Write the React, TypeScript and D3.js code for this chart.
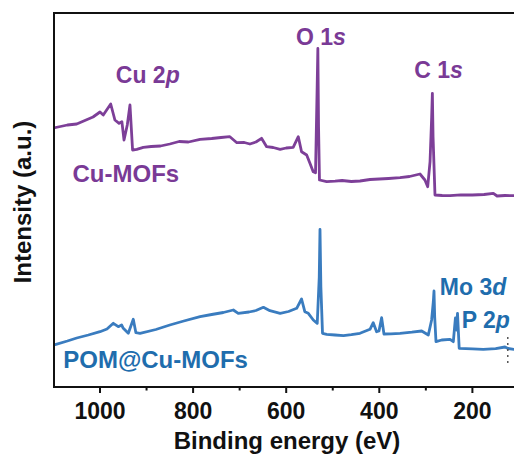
import React from "react";
import * as d3 from "d3";

// XPS survey spectra: binding energy (eV) vs intensity (a.u., curves offset vertically)
const cuMofEnergy = [1100, 1085, 1070, 1050, 1030, 1015, 1000, 993, 977, 968, 959, 953, 948.4, 941.4, 935.6, 930, 921, 907, 890, 870, 850, 830, 810, 785, 760, 740, 721, 706, 690, 678, 665, 653, 642, 628, 613, 600, 585, 574, 567, 556, 549, 542, 537, 533.5, 532, 530.5, 528.5, 513, 495, 480, 460, 441.5, 420, 400, 380, 355.5, 335, 312.6, 302, 296, 291, 287.5, 286, 284.5, 280.4, 265, 248, 225, 200, 175, 155, 147, 130, 110.6, 100];
const cuMofIntensity = [259, 260.5, 262, 263, 267, 270, 275, 272, 283, 267, 263.7, 265.3, 247, 262, 282, 237, 237.7, 239.7, 240.5, 241, 243, 245.5, 245, 247.7, 248.5, 249.5, 250.3, 244.3, 244.5, 243, 245, 248.7, 240.3, 239.5, 237.7, 239, 239.7, 250.3, 235.3, 232, 223.7, 215.3, 214.3, 300, 338.5, 260, 207, 205.3, 205.8, 206.5, 205.5, 206, 207.5, 208, 208.5, 209.3, 210.5, 213, 207, 200.3, 225.3, 270, 293.7, 250, 192, 191.5, 191.3, 192.2, 192, 192.5, 193.7, 191, 191.5, 191.3, 191.3];

const pomEnergy = [1100, 1094.5, 1070, 1050, 1025, 1000, 985, 971.4, 960.7, 953.6, 950, 939.2, 928.5, 922.9, 914, 880, 850, 820, 785, 760, 735, 713.6, 703, 680, 665, 649, 635, 613, 595, 577.5, 567, 560, 552.5, 541.8, 533.3, 529, 527.4, 525.5, 522, 513, 495, 477, 460, 441.5, 420, 413, 405.8, 400.7, 395, 390, 375, 355.5, 330, 309, 294.7, 287.6, 284, 282.5, 281, 278.2, 266, 248, 241, 236.5, 234.3, 232, 228.4, 200, 176.7, 150, 130, 123.5, 110.6, 100];
const pomIntensity = [42, 42.7, 46, 49, 52, 55.3, 58, 63.7, 60.3, 62, 58.7, 53.7, 67.7, 54.3, 53.7, 57.5, 62, 66, 70.3, 72.5, 74.5, 77, 73.7, 75, 76.5, 79.7, 76.3, 73.7, 75.5, 78.7, 88, 75.3, 73.7, 67, 63.7, 110, 157.5, 100, 53.7, 52.7, 52, 51.3, 52.3, 53.7, 57.7, 64.3, 55.3, 56, 69.3, 53, 53.2, 53.7, 54.8, 56, 52, 67, 85, 96, 70, 45.3, 47, 47.7, 45.3, 69, 57, 73.7, 38.7, 38.2, 37.7, 38.3, 40, 38.5, 37.7, 37.7];

const majorTicks = [1000, 800, 600, 400, 200];
const minorTicks = [900, 700, 500, 300];

// peak annotations: [energy, intensity at text baseline, main text, italic suffix, series]
const peakLabels: [number, number, string, string, string][] = [
  [579, 342, "O 1", "s", "cu"],
  [325, 308.7, "C 1", "s", "cu"],
  [966, 303.7, "Cu 2", "p", "cu"],
  [270, 92, "Mo 3", "d", "pom"],
  [223, 58.7, "P 2", "p", "pom"],
];
const seriesLabels: [number, number, string, string][] = [
  [1059, 205.3, "Cu-MOFs", "cu"],
  [1079, 18.7, "POM@Cu-MOFs", "pom"],
];
// short dotted guide near the right edge
const guideMarks: [number, number, number][] = [[124, 50, 22]];

const W = 514;
const H = 456;
const left = 54;
const top = 13;
const bottom = 387;

const LINE = { cu: "#7d3f98", pom: "#3a7cbf" };
const TEXT = { cu: "#7a3a96", pom: "#1f6dad" };
const FONT = "'Liberation Sans', Arial, sans-serif";

export default function App() {
  const x = d3.scaleLinear().domain([1000, 200]).range([100, 472.4]);
  const y = d3.scaleLinear().domain([0, 374]).range([bottom, top]);

  const line = d3
    .line<[number, number]>()
    .x((d) => x(d[0]))
    .y((d) => y(d[1]))
    .curve(d3.curveLinear);

  const cuPath = line(cuMofEnergy.map((e, i) => [e, cuMofIntensity[i]]) as [number, number][]) || "";
  const pomPath = line(pomEnergy.map((e, i) => [e, pomIntensity[i]]) as [number, number][]) || "";

  return (
    <div style={{ position: "absolute", left: 0, top: 0 }}>
      <svg width={W} height={H} style={{ display: "block", background: "#fff" }} fontFamily={FONT} fontWeight="bold">
        <defs>
          <clipPath id="plot">
            <rect x={left} y={top} width={W - left} height={bottom - top} />
          </clipPath>
        </defs>
        <g clipPath="url(#plot)" fill="none" strokeWidth={2.8} strokeLinejoin="round" strokeLinecap="round">
          <path d={cuPath} stroke={LINE.cu} />
          <path d={pomPath} stroke={LINE.pom} />
        </g>

        {guideMarks.map(([e, v0, v1], i) => (
          <line key={i} x1={x(e)} x2={x(e)} y1={y(v0)} y2={y(v1)} stroke="#555" strokeWidth={1.5} strokeDasharray="2,4" />
        ))}

        {/* frame */}
        <g stroke="#111" strokeWidth={2} fill="none">
          <line x1={left} x2={left} y1={top - 1} y2={bottom + 1} />
          <line x1={left - 1} x2={W} y1={top} y2={top} />
          <line x1={left - 1} x2={W} y1={bottom} y2={bottom} />
          {majorTicks.map((t) => (
            <line key={t} x1={x(t)} x2={x(t)} y1={bottom} y2={bottom + 6} />
          ))}
          {minorTicks.map((t) => (
            <line key={t} x1={x(t)} x2={x(t)} y1={bottom} y2={bottom + 3.5} />
          ))}
        </g>
        {majorTicks.map((t) => (
          <text key={t} x={x(t)} y={418.5} textAnchor="middle" fontSize={23} fill="#111">
            {t}
          </text>
        ))}
        <text x={287} y={449} textAnchor="middle" fontSize={24} fill="#111">
          Binding energy (eV)
        </text>
        <text transform="translate(31,202) rotate(-90)" textAnchor="middle" fontSize={24} fill="#111">
          Intensity (a.u.)
        </text>

        {peakLabels.map(([e, v, main, it, s]) => (
          <text key={main} x={x(e)} y={y(v)} fontSize={23} fill={TEXT[s as "cu" | "pom"]}>
            {main}
            <tspan fontStyle="italic">{it}</tspan>
          </text>
        ))}
        {seriesLabels.map(([e, v, label, s]) => (
          <text key={label} x={x(e)} y={y(v)} fontSize={24} fill={TEXT[s as "cu" | "pom"]}>
            {label}
          </text>
        ))}
      </svg>
    </div>
  );
}
